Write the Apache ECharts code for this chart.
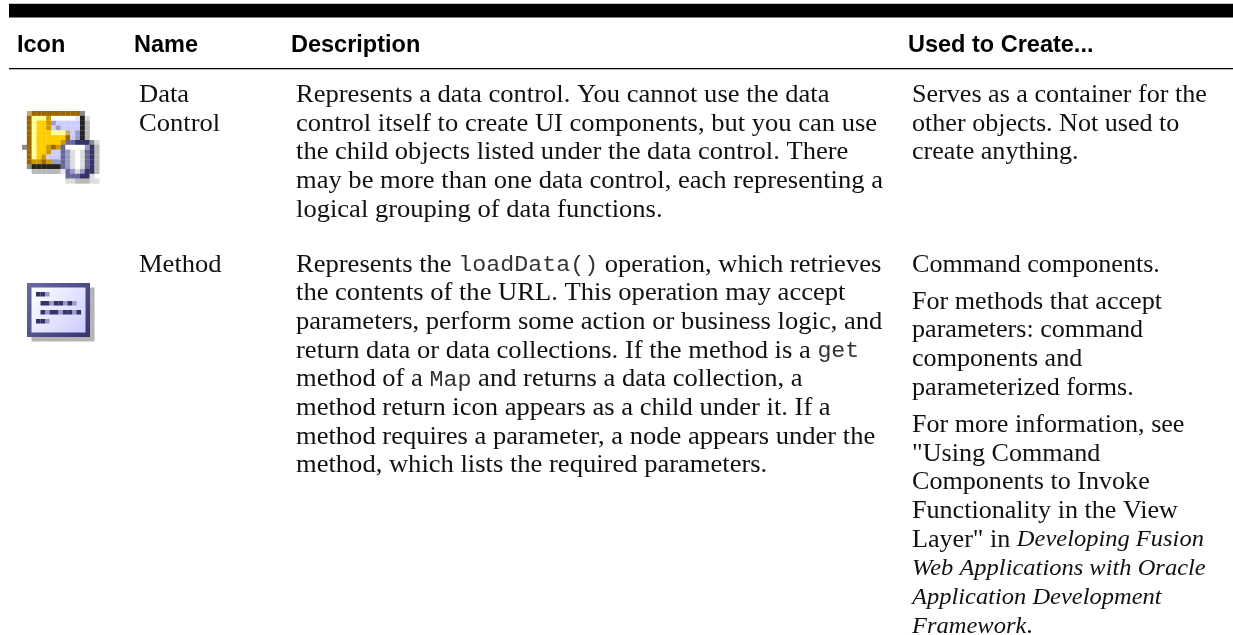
<!DOCTYPE html>
<html><head><meta charset="utf-8">
<style>html,body{margin:0;padding:0;background:#fff}#c{width:1233px;height:635px}</style>
<script src="https://cdn.jsdelivr.net/npm/echarts@6/dist/echarts.min.js"></script>
</head><body><div id="c"></div>
<script>
const headers = ["Icon","Name","Description","Used to Create..."];
const names1 = ["Data","Control"];
const desc1 = [
 "Represents a data control. You cannot use the data",
 "control itself to create UI components, but you can use",
 "the child objects listed under the data control. There",
 "may be more than one data control, each representing a",
 "logical grouping of data functions."];
const used1 = ["Serves as a container for the","other objects. Not used to","create anything."];
const names2 = ["Method"];
const desc2 = [
 "Represents the {m|loadData()} operation, which retrieves",
 "the contents of the URL. This operation may accept",
 "parameters, perform some action or business logic, and",
 "return data or data collections. If the method is a {m|get}",
 "method of a {m|Map} and returns a data collection, a",
 "method return icon appears as a child under it. If a",
 "method requires a parameter, a node appears under the",
 "method, which lists the required parameters."];
const used2a = ["Command components."];
const used2b = ["For methods that accept","parameters: command","components and","parameterized forms."];
const used2c = ["For more information, see","\"Using Command","Components to Invoke","Functionality in the View","Layer\" in {i|Developing Fusion}","{i|Web Applications with Oracle}","{i|Application Development}","{i|Framework}."];
const palette = {T:"#c9a96e",B:"#9c6500",g:"#8c8c8c",S:"#dcdcdc",G:"#b9b9b9",Y:"#ffff99",O:"#ffcc00",o:"#cc9900",
  W:"#ffffff",l:"#e6e6fa",L:"#ccccff",M:"#9a9ac8",K:"#222222",P:"#666699",D:"#333366",s:"#c8c8d0"};
const folderIcon = [
 ".TBBBBBBBBBBg...",
 ".BYYYoWWWWWlKS..",
 ".BYOOoMLLLLLKG..",
 ".BYOOoLMLLLLKG..",
 ".BYOOOYYYTLMKG..",
 ".BYOOOOOOBLMKG..",
 ".BYOOOOOoPPDDDgS",
 "gBYOOoBoPWWWWMDG",
 ".BYOOoLLPMSWSPDG",
 ".BYOoLLLPMSWSPDG",
 ".BooBoMMPMSWSPDG",
 ".gKKKKKKPMSWSPDG",
 "..GGGGGGlPMSMDDG",
 ".........PPPDDS.",
 ".........SSGGGSS"];
const methodBars = [
 "..............",
 "..............",
 "..DDM.........",
 "..............",
 "...DDMDDMDM...",
 "..............",
 "...DMDDMDDMD..",
 "..............",
 "..DDM.........",
 "..............",
 "..............",
 ".............."];

const SERIF = '"Liberation Serif"', FS = 24.5, SX = 1.084, SXU = 1.065, LH = 28.7;
const g = [];
function line(x, base, t, sx){
  g.push({type:'text', x, y: base - FS*0.24, scaleX: sx||SX, z:5, style:{
    text:t, fontFamily:SERIF, fontSize:FS, fill:'#111', verticalAlign:'middle', align:'left',
    rich:{ m:{fontFamily:'"Liberation Mono"',fontSize:21.5,fill:'#333'},
           i:{fontFamily:SERIF,fontStyle:'italic',fontSize:23,fill:'#111'} }}});
}
function block(x, base, arr, sx){ arr.forEach((t,i)=>line(x, base+i*LH, t, sx)); }
function rect(x,y,w,h,fill){ g.push({type:'rect', shape:{x,y,width:w,height:h}, style:{fill}, z:1}); }

rect(9,3,1224,1,'#c8c8c8'); rect(9,4,1224,13.5,'#000');
rect(9,68,1224,1,'#000'); rect(9,69,1224,1,'#bbb');
[[17],[134],[291],[908]].forEach((p,i)=>g.push({type:'text',x:p[0],y:46,z:5,style:{text:headers[i],
  fontFamily:'"Liberation Sans"',fontWeight:'bold',fontSize:23.5,fill:'#000',verticalAlign:'middle'}}));

block(139,101.5,names1); block(296,101.5,desc1); block(912,101.5,used1,SXU);
block(139,271,names2); block(296,271,desc2);
block(912,271,used2a,SXU); block(912,308,used2b,SXU); block(912,431.5,used2c,SXU);

// icons
const C1=4.83; folderIcon.forEach((r,j)=>[...r].forEach((ch,i)=>{ if(ch!=='.') rect(22+i*C1,111+j*C1,C1+.2,C1+.2,palette[ch]); }));
const C2=4.5, X2=27, Y2=283;
rect(X2+C2,Y2+C2,14*C2,12*C2,'#b4b4b4');
g.push({type:'rect',z:1,shape:{x:X2,y:Y2,width:14*C2,height:12*C2},style:{fill:new echarts.graphic.LinearGradient(0,0,1,1,[{offset:0,color:'#6a6aa4'},{offset:1,color:'#333370'}])}});
g.push({type:'rect',z:1,shape:{x:X2+C2,y:Y2+C2,width:12*C2,height:10*C2},style:{fill:new echarts.graphic.LinearGradient(0,0,1,1,[{offset:0,color:'#ffffff'},{offset:1,color:'#ccccff'}])}});
methodBars.forEach((r,j)=>[...r].forEach((ch,i)=>{ if(ch!=='.') rect(X2+i*C2,Y2+j*C2,C2+.1,C2,palette[ch]); }));

const chart = echarts.init(document.getElementById('c'),null,{renderer:'canvas'});
chart.setOption({animation:false,backgroundColor:'#fff',graphic:{elements:g}});
</script></body></html>
